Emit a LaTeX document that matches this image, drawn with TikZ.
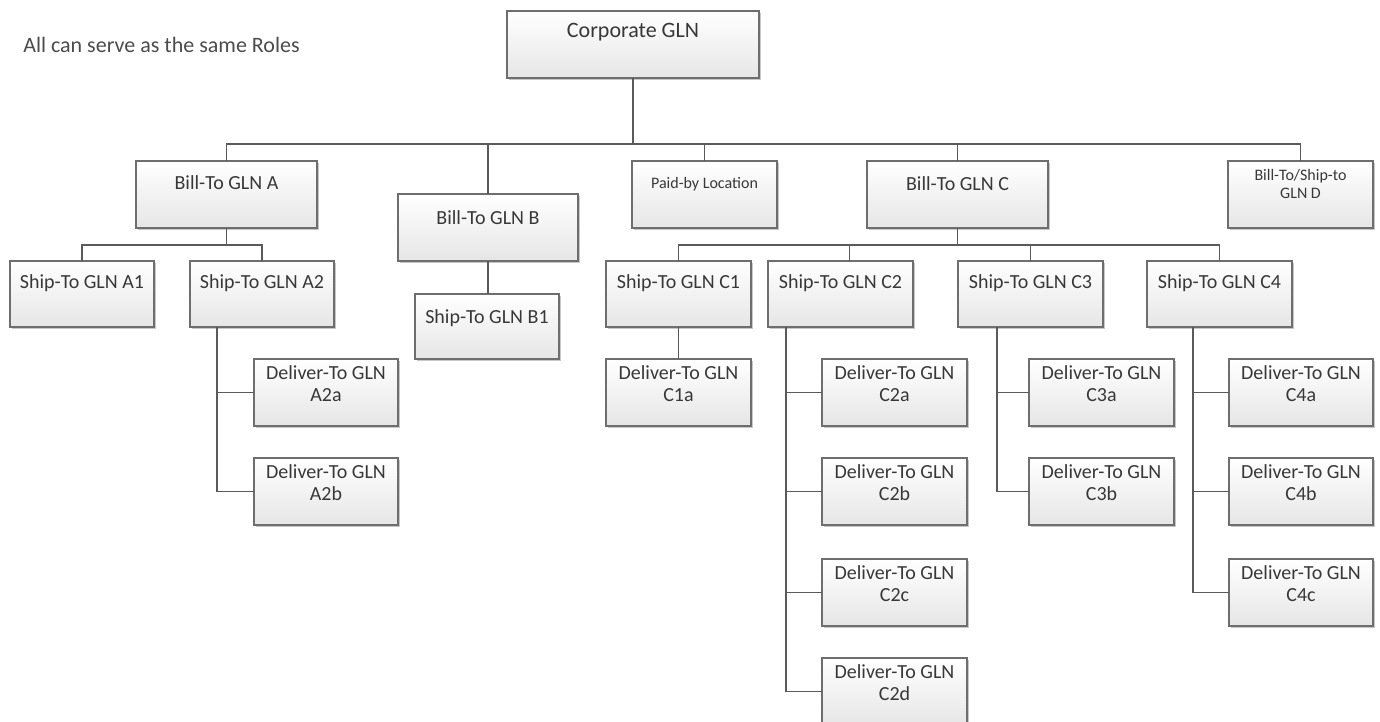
\documentclass[tikz,border=0pt]{standalone}
\usepackage{fontspec}
\setmainfont{Carlito}
\usetikzlibrary{shadows,calc}

\definecolor{txt}{HTML}{383838}
\definecolor{edge}{HTML}{6E6E6E}
\definecolor{wire}{HTML}{5A5A5A}
\definecolor{shade}{HTML}{E6E6E6}

\tikzset{
  box/.style={draw=edge, line width=1.1pt, top color=white, bottom color=shade,
    drop shadow={shadow xshift=1.3pt, shadow yshift=-1.3pt, opacity=0.22, fill=black},
    inner sep=0pt, outer sep=0pt},
  lbl/.style={text=txt, font=\fontsize{15}{16.5}\selectfont, align=center, inner sep=0pt},
  lblbig/.style={lbl, font=\fontsize{16.5}{19}\selectfont},
  lblsmall/.style={lbl, font=\fontsize{12}{13.5}\selectfont},
  wire/.style={draw=wire, line width=1.1pt},
}

% \gbox{name}{x1}{y1}{x2}{y2}{text y}{label style}{text}
\newcommand\gbox[8]{%
  \node[box, minimum width={(#4-#2)*0.75pt}, minimum height={(#5-#3)*0.75pt}]
    (#1) at ({(#2+#4)/2},{(#3+#5)/2}) {};
  \node[#7] (#1-t) at ({(#2+#4)/2},#6) {#8};
}

\begin{document}
\begin{tikzpicture}[x=0.75pt, y=-0.75pt]
\useasboundingbox (0,0) rectangle (1380,721);
\clip (0,0) rectangle (1380,721);
\fill[white] (0,0) rectangle (1380,721);

\node[lblbig, anchor=west, text=txt!90] (roles) at (23,45) {All can serve as the same Roles};

% top level
\gbox{corp}{507}{11}{759}{78}{32}{lblbig}{Corporate GLN}

% second level
\gbox{billA}{136}{161}{317}{228}{183}{lbl}{Bill-To GLN A}
\gbox{billB}{398}{194}{578}{261}{218}{lbl}{Bill-To GLN B}
\gbox{paid}{632}{161}{777}{228}{184}{lblsmall}{Paid-by Location}
\gbox{billC}{867}{161}{1048}{228}{184}{lbl}{Bill-To GLN C}
\gbox{billD}{1228}{161}{1373}{228}{184}{lblsmall}{Bill-To/Ship-to\\GLN D}

% ship-to level
\gbox{shipA1}{10}{261}{154}{327}{283}{lbl}{Ship-To GLN A1}
\gbox{shipA2}{190}{261}{334}{327}{283}{lbl}{Ship-To GLN A2}
\gbox{shipB1}{415}{294}{559}{359}{318}{lbl}{Ship-To GLN B1}
\gbox{shipC1}{606}{261}{751}{327}{283}{lbl}{Ship-To GLN C1}
\gbox{shipC2}{768}{261}{913}{327}{283}{lbl}{Ship-To GLN C2}
\gbox{shipC3}{958}{261}{1103}{327}{283}{lbl}{Ship-To GLN C3}
\gbox{shipC4}{1147}{261}{1292}{327}{283}{lbl}{Ship-To GLN C4}

% deliver-to level
\gbox{dA2a}{254}{359}{398}{426}{384}{lbl}{Deliver-To GLN\\A2a}
\gbox{dA2b}{254}{458}{398}{525}{483}{lbl}{Deliver-To GLN\\A2b}
\gbox{dC1a}{606}{359}{751}{426}{384}{lbl}{Deliver-To GLN\\C1a}
\gbox{dC2a}{822}{359}{967}{426}{384}{lbl}{Deliver-To GLN\\C2a}
\gbox{dC2b}{822}{458}{967}{525}{483}{lbl}{Deliver-To GLN\\C2b}
\gbox{dC2c}{822}{559}{967}{626}{584}{lbl}{Deliver-To GLN\\C2c}
\gbox{dC2d}{822}{658}{967}{725}{683}{lbl}{Deliver-To GLN\\C2d}
\gbox{dC3a}{1029}{359}{1174}{426}{384}{lbl}{Deliver-To GLN\\C3a}
\gbox{dC3b}{1029}{458}{1174}{525}{483}{lbl}{Deliver-To GLN\\C3b}
\gbox{dC4a}{1229}{359}{1373}{426}{384}{lbl}{Deliver-To GLN\\C4a}
\gbox{dC4b}{1229}{458}{1373}{525}{483}{lbl}{Deliver-To GLN\\C4b}
\gbox{dC4c}{1229}{559}{1373}{626}{584}{lbl}{Deliver-To GLN\\C4c}

% bus levels
\coordinate (busT) at (0,144);
\coordinate (busS) at (0,245);

% corporate to second level
\draw[wire] (corp.south) -- (corp.south |- busT);
\foreach \n in {billA,billB,paid,billC,billD}
  \draw[wire] (corp.south |- busT) -| (\n.north);

% bill-to A to ship-to
\draw[wire] (billA.south) -- (billA.south |- busS);
\foreach \n in {shipA1,shipA2}
  \draw[wire] (billA.south |- busS) -| (\n.north);

% bill-to B
\draw[wire] (billB.south) -- (billB.south |- shipB1.north);

% bill-to C to ship-to
\coordinate (c2top) at ($(shipC2.north)+(9,0)$);
\draw[wire] (billC.south) -- (billC.south |- busS);
\draw[wire] (billC.south |- busS) -| (shipC1.north);
\draw[wire] (billC.south |- busS) -| (c2top);
\draw[wire] (billC.south |- busS) -| (shipC3.north);
\draw[wire] (billC.south |- busS) -| (shipC4.north);

% ship-to C1 straight down
\draw[wire] (shipC1.south) -- (dC1a.north);

% side spines to deliver-to boxes
\coordinate (spA2) at ($(shipA2.south west)+(27,0)$);
\draw[wire] (spA2) |- (dA2b.west);
\draw[wire] (spA2 |- dA2a.west) -- (dA2a.west);

\coordinate (spC2) at ($(shipC2.south west)+(18,0)$);
\draw[wire] (spC2) |- (dC2d.west);
\foreach \n in {dC2a,dC2b,dC2c}
  \draw[wire] (spC2 |- \n.west) -- (\n.west);

\coordinate (spC3) at ($(shipC3.south west)+(39,0)$);
\draw[wire] (spC3) |- (dC3b.west);
\draw[wire] (spC3 |- dC3a.west) -- (dC3a.west);

\coordinate (spC4) at ($(shipC4.south west)+(46,0)$);
\draw[wire] (spC4) |- (dC4c.west);
\foreach \n in {dC4a,dC4b}
  \draw[wire] (spC4 |- \n.west) -- (\n.west);
\end{tikzpicture}
\end{document}
